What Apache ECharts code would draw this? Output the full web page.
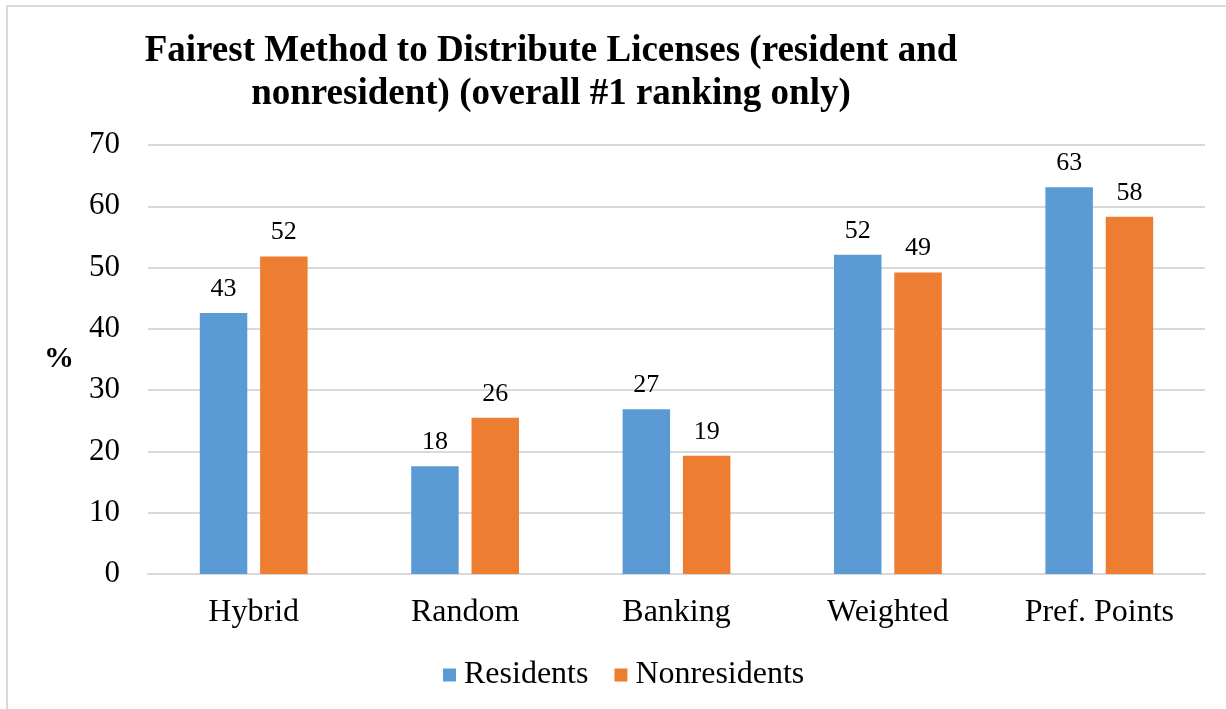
<!DOCTYPE html>
<html>
<head>
<meta charset="utf-8">
<script src="https://cdn.jsdelivr.net/npm/echarts@6/dist/echarts.min.js"></script>
<style>
html,body{margin:0;padding:0;background:#fff;overflow:hidden;}
#frame{position:absolute;left:6px;top:5px;width:1400px;height:900px;border:2px solid #d9d9d9;box-sizing:border-box;}
#chart{position:absolute;left:0;top:0;width:1226px;height:709px;}
</style>
</head>
<body>
<div id="frame"></div>
<div id="chart"></div>
<script>
const categories = ['Hybrid', 'Random', 'Banking', 'Weighted', 'Pref. Points'];
const residents = [42.6, 17.6, 26.9, 52.1, 63.1];
const nonresidents = [51.8, 25.5, 19.3, 49.2, 58.3];
const seriesNames = ['Residents', 'Nonresidents'];
const yTicks = {min: 0, max: 70, interval: 10};

const FONT = "'Liberation Serif', 'Times New Roman', serif";
const chart = echarts.init(document.getElementById('chart'), null, {renderer: 'canvas'});

const labelOpt = {
  show: true,
  position: 'top',
  distance: 11,
  fontFamily: FONT,
  fontSize: 26,
  color: '#000',
  formatter: p => Math.round(p.value)
};

chart.setOption({
  backgroundColor: 'transparent',
  animation: false,
  title: {
    text: 'Fairest Method to Distribute Licenses (resident and\nnonresident) (overall #1 ranking only)',
    left: 546,
    top: 25,
    textAlign: 'center',
    textStyle: {fontFamily: FONT, fontSize: 37, fontWeight: 'bold', color: '#000', lineHeight: 43}
  },
  legend: {
    data: seriesNames,
    left: 443,
    top: 659,
    padding: 0,
    itemWidth: 13,
    itemHeight: 13,
    itemGap: 26,
    icon: 'rect',
    textStyle: {fontFamily: FONT, fontSize: 32, color: '#000', padding: [0, 0, 0, 3]}
  },
  grid: {left: 148, right: 21, top: 145, bottom: 135, containLabel: false},
  xAxis: {
    type: 'category',
    data: categories,
    axisLine: {show: true, lineStyle: {color: '#d9d9d9', width: 2}},
    axisTick: {show: false},
    axisLabel: {fontFamily: FONT, fontSize: 32, color: '#000', margin: 23}
  },
  yAxis: {
    type: 'value',
    min: yTicks.min,
    max: yTicks.max,
    interval: yTicks.interval,
    name: '%',
    nameLocation: 'middle',
    nameRotate: 0,
    nameGap: 74,
    nameTextStyle: {fontFamily: FONT, fontSize: 30, fontWeight: 'bold', color: '#000', padding: [14, 0, 0, 0]},
    axisLine: {show: false},
    axisTick: {show: false},
    splitLine: {show: true, lineStyle: {color: '#d9d9d9', width: 2}},
    axisLabel: {fontFamily: FONT, fontSize: 31, color: '#000', margin: 28}
  },
  series: [
    {name: seriesNames[0], type: 'bar', data: residents, barGap: '27%', barCategoryGap: '49%',
     itemStyle: {color: '#5B9BD5'}, label: labelOpt},
    {name: seriesNames[1], type: 'bar', data: nonresidents, barGap: '27%', barCategoryGap: '49%',
     itemStyle: {color: '#ED7D31'}, label: labelOpt}
  ]
});
</script>
</body>
</html>
